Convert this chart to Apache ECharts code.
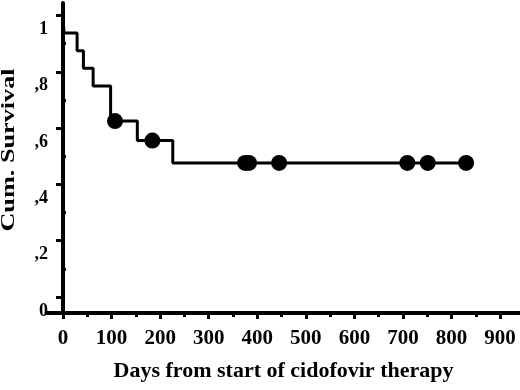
<!DOCTYPE html>
<html>
<head>
<meta charset="utf-8">
<script src="https://cdn.jsdelivr.net/npm/echarts@6/dist/echarts.min.js"></script>
<style>
html,body{margin:0;padding:0;background:#fff;}
#c{width:520px;height:390px;}
</style>
</head>
<body>
<div id="c"></div>
<script>
// Kaplan-Meier step curve (days, cumulative survival)
const stepDays = [0, 2, 29, 42, 62, 98, 153, 226, 830];
const stepSurvival = [1, 0.9375, 0.875, 0.8125, 0.75, 0.625, 0.5556, 0.4762, 0.4762];
// censored observations
const censorDays = [107, 184, 375, 383, 445, 709, 751, 830];
const censorSurvival = [0.625, 0.5556, 0.4762, 0.4762, 0.4762, 0.4762, 0.4762, 0.4762];
// axis ticks
const xMajorTicks = [0, 100, 200, 300, 400, 500, 600, 700, 800, 900];
const xMinorTicks = [50, 150, 250, 350, 450, 550, 650, 750, 850];
const yMajorTicks = [0, 0.2, 0.4, 0.6, 0.8, 1];
const yTickLabels = ['0', ',2', ',4', ',6', ',8', '1'];
const yMinorTicks = [0.1, 0.3, 0.5, 0.7, 0.9];
const xTitle = 'Days from start of cidofovir therapy';
const yTitle = 'Cum. Survival';

const FONT = "'Liberation Serif', 'Times New Roman', serif";
const X_MIN = -33, X_MAX = 941;
const Y_MIN = -0.0568, Y_MAX = 1.0444;

const chart = echarts.init(document.getElementById('c'));
chart.setOption({
  animation: false,
  backgroundColor: '#fff',
  grid: {left: 47, right: 0, top: 3, bottom: 77, containLabel: false, outerBoundsMode: 'none'},
  graphic: [{
    type: 'text', x: 19, y: 150, rotation: Math.PI / 2, scaleX: 1.38, scaleY: 1,
    style: {text: yTitle, fill: '#000', font: "bold 19px 'Liberation Serif', serif",
      align: 'center', verticalAlign: 'bottom'}
  }],
  xAxis: [{
    type: 'value', min: X_MIN, max: X_MAX, position: 'bottom',
    axisLine: {show: true, onZero: false, lineStyle: {color: '#000', width: 4}},
    axisTick: {show: true, customValues: xMajorTicks, length: 6, lineStyle: {color: '#000', width: 3}},
    axisLabel: {show: true, customValues: xMajorTicks, margin: 15, color: '#000',
      fontFamily: FONT, fontWeight: 'bold', fontSize: 21, hideOverlap: false},
    splitLine: {show: false},
    name: xTitle, nameLocation: 'middle', nameGap: 47,
    nameTextStyle: {color: '#000', fontFamily: FONT, fontWeight: 'bold', fontSize: 22, padding: [0, 0, 0, 0]}
  }, {
    type: 'value', min: X_MIN, max: X_MAX, position: 'bottom',
    axisLine: {show: false, onZero: false},
    axisTick: {show: true, customValues: xMinorTicks, length: 4, lineStyle: {color: '#000', width: 3}},
    axisLabel: {show: false},
    splitLine: {show: false}
  }],
  yAxis: [{
    type: 'value', min: Y_MIN, max: Y_MAX,
    axisLine: {show: true, onZero: true, lineStyle: {color: '#000', width: 4}},
    axisTick: {show: true, customValues: yMajorTicks, length: 7, lineStyle: {color: '#000', width: 3}},
    axisLabel: {show: true, customValues: yMajorTicks, margin: -1, color: '#000',
      fontFamily: FONT, fontWeight: 'bold', fontSize: 18, verticalAlign: 'top', lineHeight: 18,
      padding: [5, 0, 0, 0], hideOverlap: false,
      formatter: function (v) {
        const i = yMajorTicks.findIndex(t => Math.abs(t - v) < 1e-6);
        return i >= 0 ? yTickLabels[i] : '';
      }},
    splitLine: {show: false}
  }, {
    type: 'value', min: Y_MIN, max: Y_MAX,
    axisLine: {show: false, onZero: true},
    axisTick: {show: true, customValues: yMinorTicks, length: 3, lineStyle: {color: '#000', width: 3}},
    axisLabel: {show: false},
    splitLine: {show: false}
  }],
  series: [{
    type: 'line', step: 'end', xAxisIndex: 0, yAxisIndex: 0,
    data: stepDays.map((d, i) => [d, stepSurvival[i]]),
    showSymbol: false, symbol: 'none',
    lineStyle: {color: '#000', width: 3}
  }, {
    type: 'scatter', xAxisIndex: 0, yAxisIndex: 0,
    data: censorDays.map((d, i) => [d, censorSurvival[i]]),
    symbol: 'circle', symbolSize: 16,
    itemStyle: {color: '#000', opacity: 1}
  }]
});
</script>
</body>
</html>
